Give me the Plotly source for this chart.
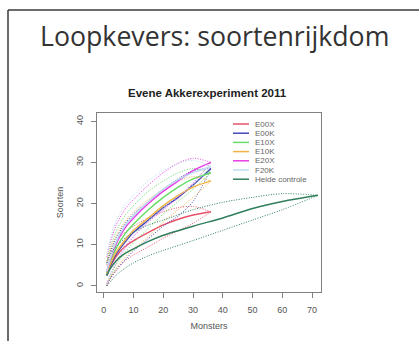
import plotly.graph_objects as go

# ---------------- data ----------------
x_e = [1, 2, 4, 7, 10, 15, 20, 25, 30, 36]
x_h = [1, 2, 4, 7, 10, 15, 20, 30, 40, 50, 60, 72]

e00x_mean = [2.5, 4.5, 7, 9.5, 11, 13, 14.8, 16.2, 17.2, 18]
e00x_up = [5, 7.5, 10.5, 13, 14.5, 16.5, 18, 19, 19.3, 18]
e00x_lo = [0, 1.5, 3.5, 6, 7.5, 9.5, 11.6, 13.4, 15.2, 18]

e00k_mean = [2.5, 4.5, 7.5, 10.5, 13, 16, 19, 21.5, 24.5, 28.5]
e00k_up = [5.5, 8, 11.5, 15, 17.5, 20.5, 23.5, 26, 28, 28.5]
e00k_lo = [0, 1.5, 3.8, 6.2, 8.5, 11.5, 14.5, 17, 20.5, 28.5]

e10x_mean = [3, 5.5, 9, 12.5, 15, 18.5, 21.5, 24, 26, 27.5]
e10x_up = [6, 9, 13, 17, 19.5, 23, 25.5, 27.5, 28.5, 27.5]
e10x_lo = [0.5, 2, 5, 8, 10.5, 14, 17.5, 20.5, 23.5, 27.5]

e10k_mean = [3, 5, 8, 11, 13.5, 16.5, 19.5, 22, 24, 25.5]
e10k_up = [6, 8.5, 12, 15.5, 18, 21, 23.5, 25.5, 26.5, 25.5]
e10k_lo = [0.3, 1.8, 4.2, 6.8, 9, 12, 15.5, 18.5, 21.5, 25.5]

e20x_mean = [3.5, 6, 10, 14, 16.5, 20, 23, 25.5, 28, 30]
e20x_up = [7, 10, 14.5, 18.5, 21, 24.5, 27.5, 29.8, 31, 30]
e20x_lo = [0.5, 2.5, 5.5, 9, 12, 15.5, 18.5, 21.5, 25, 30]

f20k_mean = [3.5, 6.2, 10.5, 14.5, 17, 20.5, 23.5, 25.8, 27.5, 29]
f20k_up = [7.5, 11, 15.5, 19.5, 22, 25.5, 28, 29.8, 30.5, 29]
f20k_lo = [0.5, 2.5, 5.8, 9.5, 12.2, 15.8, 19, 21.8, 24.5, 29]

heide_mean = [2.5, 4, 6, 7.8, 9, 10.8, 12.3, 14.5, 16.5, 18.8, 20.5, 22]
heide_up = [5.5, 7.5, 9.5, 11.5, 13, 14.8, 16, 18.5, 20.3, 21.5, 22.4, 22]
heide_lo = [0, 0.8, 2.5, 4.2, 5.6, 7.3, 8.6, 11, 13.5, 16, 18.5, 22]

labels = ["E00X", "E00K", "E10X", "E10K", "E20X", "F20K", "Heide controle"]
x_ticks = [0, 10, 20, 30, 40, 50, 60, 70]
y_ticks = [0, 10, 20, 30, 40]

# ---------------- styles ----------------
colors = ["#e8506a", "#4848b8", "#66dd66", "#f2b445", "#e83ce8", "#bcdcf0", "#2f7f5c"]

series = [
    (x_e, e00x_mean, e00x_up, e00x_lo),
    (x_e, e00k_mean, e00k_up, e00k_lo),
    (x_e, e10x_mean, e10x_up, e10x_lo),
    (x_e, e10k_mean, e10k_up, e10k_lo),
    (x_e, e20x_mean, e20x_up, e20x_lo),
    (x_e, f20k_mean, f20k_up, f20k_lo),
    (x_h, heide_mean, heide_up, heide_lo),
]

fig = go.Figure()
for (xs, m, up, lo), lab, col in zip(series, labels, colors):
    for band in (up, lo):
        fig.add_trace(go.Scatter(x=xs, y=band, mode="lines", showlegend=False,
                                 line=dict(color=col, width=1, dash="1px,1.5px",
                                           shape="spline", smoothing=0.8),
                                 hoverinfo="skip"))
    fig.add_trace(go.Scatter(x=xs, y=m, mode="lines", name=lab, showlegend=False,
                             line=dict(color=col, width=1.5, shape="spline",
                                       smoothing=0.8)))

# plot area geometry (pixels)
W, H = 419, 341
L, R, T, B = 97, 321, 113, 292
pw, ph = R - L, B - T


def px(xp):
    return (xp - L) / pw


def py(yp):
    return 1 - (yp - T) / ph


axis_font = dict(family="Liberation Sans, Arial", size=9, color="#555")
fig.update_layout(
    width=W, height=H,
    margin=dict(l=L, r=W - R, t=T, b=H - B),
    paper_bgcolor="white", plot_bgcolor="white",
    showlegend=False,
    xaxis=dict(range=[-2.3, 73], tickvals=x_ticks, showgrid=False, zeroline=False,
               showline=True, mirror=True, linecolor="#808080", linewidth=1,
               ticks="outside", ticklen=5, tickcolor="#808080",
               tickfont=axis_font, ticklabelstandoff=4,
               title=dict(text="Monsters", font=axis_font, standoff=8)),
    yaxis=dict(range=[-1.5, 42], tickvals=y_ticks, showgrid=False, zeroline=False,
               showline=True, mirror=True, linecolor="#808080", linewidth=1,
               ticks="outside", ticklen=5, tickcolor="#808080",
               tickfont=axis_font, tickangle=-90, ticklabelstandoff=4,
               title=dict(text="Soorten", font=axis_font, standoff=10)),
)

# slide title
fig.add_annotation(text="Loopkevers: soortenrijkdom", xref="paper", yref="paper",
                   x=px(214), y=py(36), xanchor="center", yanchor="middle",
                   showarrow=False,
                   font=dict(family="Open Sans", size=26.7, color="#333"))
# chart title
fig.add_annotation(text="<b>Evene Akkerexperiment 2011</b>", xref="paper", yref="paper",
                   x=px(207.5), y=py(93), xanchor="center", yanchor="middle",
                   showarrow=False,
                   font=dict(family="Liberation Sans, Arial", size=11.5, color="#222"))

# slide frame
frame = dict(color="#3a3a3a", width=1.5)
fig.add_shape(type="line", xref="paper", yref="paper", x0=px(8), x1=px(W), y0=py(10), y1=py(10), line=frame)
fig.add_shape(type="line", xref="paper", yref="paper", x0=px(8), x1=px(8), y0=py(10), y1=py(H), line=frame)

# manual legend (R style, no box)
leg_x0, leg_x1, leg_tx, leg_y0, leg_dy = 233, 249, 253, 124, 9.2
for i, (lab, col) in enumerate(zip(labels, colors)):
    yy = py(leg_y0 + i * leg_dy)
    fig.add_shape(type="line", xref="paper", yref="paper", x0=px(leg_x0), x1=px(leg_x1),
                  y0=yy, y1=yy, line=dict(color=col, width=1.5))
    fig.add_annotation(text=lab, xref="paper", yref="paper", x=px(leg_tx), y=yy,
                       xanchor="left", yanchor="middle", showarrow=False,
                       font=dict(family="Liberation Sans, Arial", size=8, color="#666"))

fig.write_html("out.html", config={"displayModeBar": False},
               post_script="document.body.style.margin='0';")
